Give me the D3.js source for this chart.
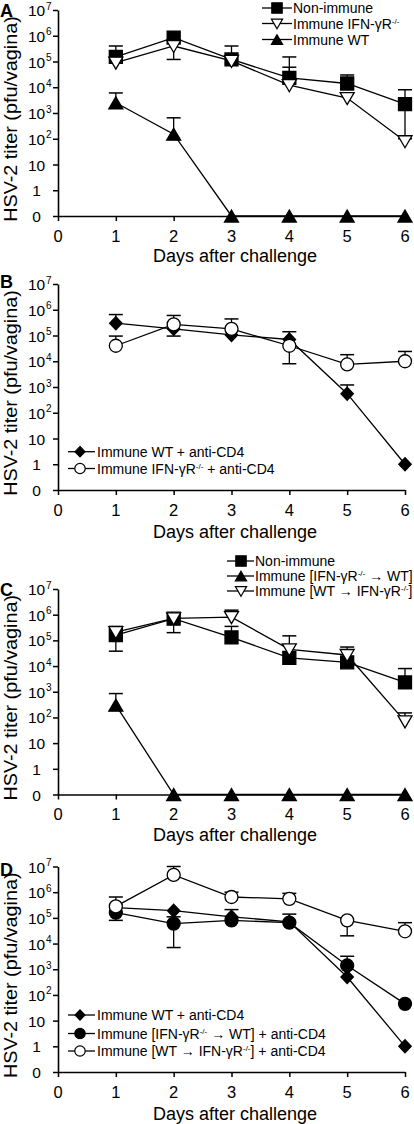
<!DOCTYPE html>
<html><head><meta charset="utf-8">
<script src="https://cdn.jsdelivr.net/npm/d3@7"></script>
<style>
body{margin:0;background:#fff}
svg{display:block}
text{font-family:"Liberation Sans",Arial,Helvetica,sans-serif;fill:#000}
</style>
</head><body>
<svg id="chart" width="414" height="1124"></svg>
<script>
// ---------- data ----------
const days = [1, 2, 3, 4, 5, 6];
const xTicks = [0, 1, 2, 3, 4, 5, 6];
const yTickPos = [-1, 0, 1, 2, 3, 4, 5, 6, 7];          // log10 positions, -1 stands for "0"
const yTickLabels = ["0", "1", "10", "10{2}", "10{3}", "10{4}", "10{5}", "10{6}", "10{7}"];
const xTitle = "Days after challenge";
const yTitle = "HSV-2 titer (pfu/vagina)";
const panelLetters = ["A", "B", "C", "D"];

// Panel A
const A_nonImmune    = [1.5e5, 8.5e5, 1.2e5, 2.3e4, 1.4e4, 2.2e3];
const A_nonImmune_hi = [4e5, null, 4e5, 1.5e5, 3e4, 8e3];
const A_nonImmune_lo = [null, null, null, null, null, 100];
const A_ifngr        = [9e4, 4e5, 1.05e5, 1.2e4, 3.8e3, 80];
const A_ifngr_hi     = [null, null, null, 6e4, null, null];
const A_ifngr_lo     = [null, 1.2e5, null, null, null, null];
const A_wt           = [2.5e3, 150, 0, 0, 0, 0];
const A_wt_hi        = [6e3, 6.5e2, null, null, null, null];
const A_labels = ["Non-immune", "Immune IFN-γR{-/-}", "Immune WT"];

// Panel B
const B_wtCD4       = [3e5, 1.8e5, 1.05e5, 7e4, 5.5e2, 1];
const B_wtCD4_hi    = [6.5e5, null, null, 1.4e5, 1.2e3, null];
const B_wtCD4_lo    = [null, 9.5e4, null, null, null, null];
const B_ifngrCD4    = [4e4, 2.7e5, 1.8e5, 4e4, 7.5e3, 1e4];
const B_ifngrCD4_hi = [9.5e4, 6e5, 4.4e5, null, 1.8e4, 2.4e4];
const B_ifngrCD4_lo = [null, null, null, 8e3, null, null];
const B_labels = ["Immune WT + anti-CD4", "Immune IFN-γR{-/-} + anti-CD4"];

// Panel C
const C_nonImmune     = [1.6e5, 7e5, 1.3e5, 2.1e4, 1.4e4, 2.3e3];
const C_nonImmune_hi  = [null, null, 3.5e5, null, null, 8e3];
const C_nonImmune_lo  = [3.8e4, 2e5, null, null, null, null];
const C_ifngrToWt     = [3e2, 0, 0, 0, 0, 0];
const C_ifngrToWt_hi  = [8.5e2, null, null, null, null, null];
const C_wtToIfngr     = [2.1e5, 7.2e5, 8e5, 4.5e4, 2.7e4, 70];
const C_wtToIfngr_hi  = [3.5e5, null, 1.5e6, 1.5e5, 5.5e4, 1.5e2];
const C_labels = ["Non-immune", "Immune [IFN-γR{-/-} → WT]", "Immune [WT → IFN-γR{-/-}]"];

// Panel D
const D_wtCD4           = [2.5e5, 1.9e5, 1.1e5, 7e4, 5e2, 1];
const D_wtCD4_hi        = [null, null, 2.1e5, null, null, null];
const D_ifngrToWtCD4    = [1.6e5, 6e4, 8e4, 6.5e4, 1.4e3, 45];
const D_ifngrToWtCD4_hi = [null, 1.1e5, null, 1.4e5, 3.2e3, null];
const D_ifngrToWtCD4_lo = [8e4, 7e3, null, null, null, null];
const D_wtToIfngrCD4    = [2.8e5, 4.7e6, 6.5e5, 5.5e5, 8e4, 3e4];
const D_wtToIfngrCD4_hi = [6.5e5, 1e7, 1e6, 9e5, null, 6.5e4];
const D_wtToIfngrCD4_lo = [null, null, null, null, 2e4, null];
const D_labels = ["Immune WT + anti-CD4", "Immune [IFN-γR{-/-} → WT] + anti-CD4", "Immune [WT → IFN-γR{-/-}] + anti-CD4"];

// ---------- layout ----------
const N = days.length, nul = Array(N).fill(null);
const panels = [
  {letter: panelLetters[0], top: 10, bottom: 216, titleDy: 45.5, letterY: 17,
   legend: {x0: 262, mx: 277, x1: 292, tx: 293, rows: [8, 23.5, 39.5]},
   series: [
     {v: A_nonImmune, hi: A_nonImmune_hi, lo: A_nonImmune_lo, shape: "square", fill: "#000", label: A_labels[0]},
     {v: A_ifngr, hi: A_ifngr_hi, lo: A_ifngr_lo, shape: "triDown", fill: "#fff", label: A_labels[1]},
     {v: A_wt, hi: A_wt_hi, lo: nul, shape: "triUp", fill: "#000", label: A_labels[2]}
   ]},
  {letter: panelLetters[1], top: 284, bottom: 490, titleDy: 48, letterY: 288,
   legend: {x0: 68, mx: 80, x1: 95, tx: 97, rows: [451.7, 468.5]},
   series: [
     {v: B_wtCD4, hi: B_wtCD4_hi, lo: B_wtCD4_lo, shape: "diamond", fill: "#000", label: B_labels[0]},
     {v: B_ifngrCD4, hi: B_ifngrCD4_hi, lo: B_ifngrCD4_lo, shape: "circle", fill: "#fff", label: B_labels[1]}
   ]},
  {letter: panelLetters[2], top: 589, bottom: 794.5, titleDy: 46.5, letterY: 596,
   legend: {x0: 227, mx: 241, x1: 254, tx: 255, rows: [561, 576, 591]},
   series: [
     {v: C_nonImmune, hi: C_nonImmune_hi, lo: C_nonImmune_lo, shape: "square", fill: "#000", label: C_labels[0]},
     {v: C_ifngrToWt, hi: C_ifngrToWt_hi, lo: nul, shape: "triUp", fill: "#000", label: C_labels[1]},
     {v: C_wtToIfngr, hi: C_wtToIfngr_hi, lo: nul, shape: "triDown", fill: "#fff", label: C_labels[2]}
   ]},
  {letter: panelLetters[3], top: 866.5, bottom: 1072, titleDy: 48, letterY: 876,
   legend: {x0: 68, mx: 80, x1: 95, tx: 97, rows: [1015, 1033.5, 1051]},
   series: [
     {v: D_wtCD4, hi: D_wtCD4_hi, lo: nul, shape: "diamond", fill: "#000", label: D_labels[0]},
     {v: D_ifngrToWtCD4, hi: D_ifngrToWtCD4_hi, lo: D_ifngrToWtCD4_lo, shape: "circle", fill: "#000", label: D_labels[1]},
     {v: D_wtToIfngrCD4, hi: D_wtToIfngrCD4_hi, lo: D_wtToIfngrCD4_lo, shape: "circle", fill: "#fff", label: D_labels[2]}
   ]}
];

const svg = d3.select("#chart");
const X0 = 58, X1 = 405;
const yLog = v => v <= 0 ? -1 : Math.log10(v);

const shapes = {
  square: s => `M${-6.5*s},${-6.5*s}H${6.5*s}V${6.5*s}H${-6.5*s}Z`,
  triUp: s => `M0,${-6*s}L${7*s},${6*s}L${-7*s},${6*s}Z`,
  triDown: s => `M0,${6.5*s}L${7*s},${-5.5*s}L${-7*s},${-5.5*s}Z`,
  diamond: s => `M0,${-6.5*s}L${6.2*s},0L0,${6.5*s}L${-6.2*s},0Z`,
  circle: s => { const p = d3.path(); p.arc(0, 0, 6.5*s, 0, 2*Math.PI); p.closePath(); return p.toString(); }
};

function richText(sel, str, supSize) {
  const parts = str.split(/(\{[^}]*\})/).filter(d => d.length);
  let wasSup = false;
  parts.forEach(p => {
    if (p.startsWith("{")) {
      sel.append("tspan").attr("dy", -5).attr("font-size", supSize).text(p.slice(1, -1));
      wasSup = true;
    } else {
      const t = sel.append("tspan").text(p);
      if (wasSup) t.attr("dy", 5);
      wasSup = false;
    }
  });
}

panels.forEach(p => {
  const g = svg.append("g");
  const x = d3.scaleLinear().domain([0, 6]).range([X0, X1]);
  const y = d3.scaleLinear().domain([-1, 7]).range([p.bottom, p.top]);

  // axes
  const ya = g.append("g").attr("transform", `translate(${X0},0)`)
    .call(d3.axisLeft(y).tickValues(yTickPos).tickSize(5).tickSizeOuter(0).tickFormat(""));
  const xa = g.append("g").attr("transform", `translate(0,${p.bottom})`)
    .call(d3.axisBottom(x).tickValues(xTicks).tickSize(5).tickSizeOuter(0).tickFormat(""));
  [ya, xa].forEach(a => {
    a.select(".domain").attr("stroke", "#000").attr("stroke-width", 1.6);
    a.selectAll(".tick line").attr("stroke", "#000").attr("stroke-width", 1.5);
  });

  // y tick labels
  yTickPos.forEach((t, i) => {
    const lab = yTickLabels[i];
    const m = lab.match(/^([^{]*)(\{(.*)\})?$/);
    g.append("text").attr("x", 36.5).attr("y", y(t) + 6).attr("text-anchor", "middle")
      .attr("font-size", 15.5).text(m[1]);
    if (m[3]) g.append("text").attr("x", 46).attr("y", y(t) - 0.5)
      .attr("font-size", 10).text(m[3]);
  });
  // x tick labels
  xTicks.forEach(t => {
    g.append("text").attr("x", x(t)).attr("y", p.bottom + 25.5).attr("text-anchor", "middle")
      .attr("font-size", 16.5).text(t);
  });
  // titles
  g.append("text").attr("x", (X0 + X1) / 2 + 3.5).attr("y", p.bottom + p.titleDy)
    .attr("text-anchor", "middle").attr("font-size", 18).text(xTitle);
  g.append("text").attr("transform", `translate(16.5,${(p.top + p.bottom) / 2 + 6}) rotate(-90) scale(1.1,1)`)
    .attr("text-anchor", "middle").attr("font-size", 18).text(yTitle);
  g.append("text").attr("x", 0).attr("y", p.letterY).attr("font-size", 18)
    .attr("font-weight", "bold").text(p.letter);

  // lines
  const line = d3.line().x(d => x(d.day)).y(d => y(yLog(d.v)));
  p.series.forEach(s => {
    const pts = days.map((d, i) => ({day: d, v: s.v[i]}));
    g.append("path").datum(pts).attr("d", line).attr("fill", "none")
      .attr("stroke", "#000").attr("stroke-width", 1.3);
  });
  // error bars
  p.series.forEach(s => {
    days.forEach((d, i) => {
      [s.hi[i], s.lo[i]].forEach(e => {
        if (e == null) return;
        const cx = x(d), yv = y(yLog(s.v[i])), ye = y(yLog(e));
        g.append("line").attr("x1", cx).attr("x2", cx).attr("y1", yv).attr("y2", ye)
          .attr("stroke", "#000").attr("stroke-width", 1.3);
        g.append("line").attr("x1", cx - 7).attr("x2", cx + 7).attr("y1", ye).attr("y2", ye)
          .attr("stroke", "#000").attr("stroke-width", 1.5);
      });
    });
  });
  // markers
  p.series.forEach(s => {
    days.forEach((d, i) => {
      g.append("path").attr("d", shapes[s.shape](1))
        .attr("transform", `translate(${x(d)},${y(yLog(s.v[i]))})`)
        .attr("fill", s.fill).attr("stroke", "#000").attr("stroke-width", 1.3);
    });
  });

  // legend
  const L = p.legend;
  p.series.forEach((s, i) => {
    const ry = L.rows[i];
    g.append("line").attr("x1", L.x0).attr("x2", L.x1).attr("y1", ry).attr("y2", ry)
      .attr("stroke", "#000").attr("stroke-width", 1.3);
    g.append("path").attr("d", shapes[s.shape](0.8)).attr("transform", `translate(${L.mx},${ry})`)
      .attr("fill", s.fill).attr("stroke", "#000").attr("stroke-width", 1.2);
    const t = g.append("text").attr("x", L.tx).attr("y", ry + 5).attr("font-size", 14);
    richText(t, s.label, 8);
  });
});
</script>
</body></html>
